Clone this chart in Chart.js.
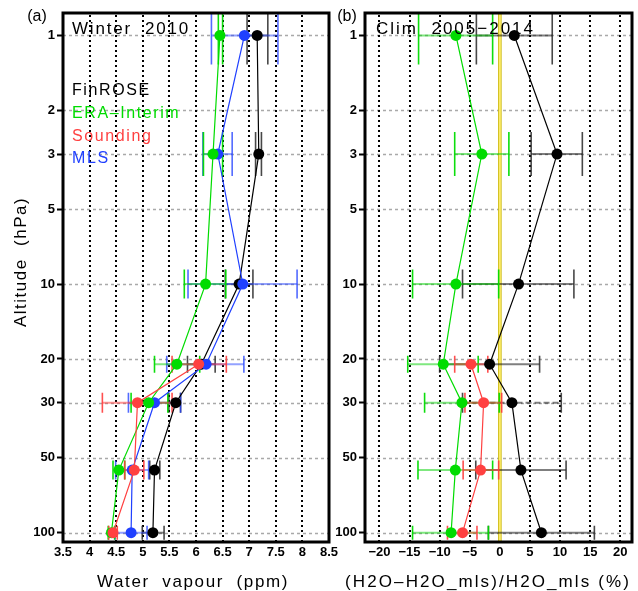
<!DOCTYPE html>
<html><head><meta charset="utf-8">
<script src="https://cdn.jsdelivr.net/npm/chart.js@4"></script>
<style>
html,body{margin:0;padding:0;background:#fff;}
#wrap{position:relative;width:638px;height:591px;overflow:hidden;background:#fff;}
#ca{position:absolute;left:0;top:0;}
#cb{position:absolute;left:330px;top:0;}
</style></head><body>
<div id="wrap"><canvas id="ca" width="345" height="591"></canvas><canvas id="cb" width="308" height="591"></canvas></div>
<script>
// ---------------- data ----------------
const levels = [1, 3, 10, 21, 30, 56, 100];
const yTickValues = [1, 2, 3, 5, 10, 20, 30, 50, 100];
const xTicksA = [3.5, 4, 4.5, 5, 5.5, 6, 6.5, 7, 7.5, 8, 8.5];
const xTicksB = [-20, -15, -10, -5, 0, 5, 10, 15, 20];
const seriesNames = ['FinROSE', 'ERA–Interim', 'Sounding', 'MLS'];

// panel (a): water vapour (ppm)
const finrose    = [7.15, 7.18, 6.81, 6.10, 5.62, 5.22, 5.19];
const finroseLo  = [6.96, 7.12, 6.55, 5.84, 5.49, 5.13, 4.99];
const finroseHi  = [7.35, 7.23, 7.07, 6.36, 5.71, 5.32, 5.40];
const era        = [6.45, 6.32, 6.18, 5.64, 5.11, 4.55, 4.41];
const eraLo      = [6.42, 6.14, 5.78, 5.22, 4.78, 4.44, 4.35];
const eraHi      = [6.50, 6.50, 6.56, 6.07, 5.47, 4.66, 4.47];
const sounding   = [null, null, null, 6.05, 4.90, 4.84, 4.44];
const soundingLo = [null, null, null, 5.55, 4.24, 4.66, 4.36];
const soundingHi = [null, null, null, 6.57, 5.55, 5.02, 4.52];
const mls        = [6.91, 6.41, 6.88, 6.19, 5.22, 4.80, 4.78];
const mlsLo      = [6.29, 6.13, 5.85, 5.45, 4.73, 4.49, 4.48];
const mlsHi      = [7.54, 6.68, 7.90, 6.90, 5.71, 5.11, 5.08];

// panel (b): relative difference to MLS (%)
const finroseRel    = [2.4, 9.5, 3.1, -1.7, 2.0, 3.5, 6.9];
const finroseRelLo  = [-3.9, 5.2, -6.2, -10.0, -6.2, -4.0, -1.9];
const finroseRelHi  = [8.7, 13.7, 12.3, 6.6, 10.2, 11.0, 15.7];
const eraRel        = [-7.3, -3.0, -7.3, -9.4, -6.3, -7.4, -8.1];
const eraRelLo      = [-13.5, -7.5, -14.5, -15.3, -12.5, -13.6, -14.5];
const eraRelHi      = [-1.2, 1.5, -0.2, -3.6, -0.1, -1.2, -1.9];
const soundingRel   = [null, null, null, -4.8, -2.7, -3.2, -6.2];
const soundingRelLo = [null, null, null, -7.5, -5.8, -6.1, -8.7];
const soundingRelHi = [null, null, null, -2.0, 0.3, -0.2, -3.8];

// ---------------- styles ----------------
const FONT = '"Liberation Sans", Arial, Helvetica, sans-serif';
const C = {
  finrose: {line:'#000000', bar:'rgba(0,0,0,0.5)', cap:'rgba(40,40,40,0.85)'},
  era:     {line:'#00dc00', bar:'rgba(0,210,0,0.5)', cap:'rgba(0,220,0,0.95)'},
  sounding:{line:'#ff4040', bar:'rgba(255,60,60,0.55)', cap:'rgba(255,60,60,0.9)'},
  mls:     {line:'#2040ff', bar:'rgba(40,70,255,0.5)', cap:'rgba(40,70,255,0.8)'}
};
const capHalf = [29, 22, 14.5, 8.5, 10, 9.5, 7];

function makeDataset(label, xs, color) {
  const pts = [];
  xs.forEach((v, i) => { if (v !== null) pts.push({x: v, y: levels[i]}); });
  return {label, data: pts, showLine: true, borderColor: color, backgroundColor: color,
    borderWidth: 1.2, pointRadius: 5.5, pointHoverRadius: 5.5, pointBackgroundColor: color,
    pointBorderColor: color, pointBorderWidth: 0, tension: 0};
}

const panelPlugin = {
  id: 'panel',
  beforeDatasetsDraw(chart, args, opts) {
    const {ctx, chartArea: a, scales: {x, y}} = chart;
    ctx.save();
    ctx.beginPath(); ctx.rect(a.left, a.top, a.right - a.left, a.bottom - a.top); ctx.clip();
    // horizontal grey dotted grid
    ctx.lineWidth = 1.5; ctx.strokeStyle = '#a9a9a9'; ctx.setLineDash([3, 3]);
    y.ticks.forEach(t => {
      const yy = Math.round(y.getPixelForValue(t.value)) + 0.5;
      ctx.beginPath(); ctx.moveTo(a.left, yy); ctx.lineTo(a.right, yy); ctx.stroke();
    });
    // vertical black dotted grid
    ctx.lineWidth = 2; ctx.strokeStyle = '#000'; ctx.setLineDash([2, 3]);
    x.ticks.forEach(t => {
      if (t.value <= x.min + 1e-9 || t.value >= x.max - 1e-9) return;
      const xx = Math.round(x.getPixelForValue(t.value));
      ctx.beginPath(); ctx.moveTo(xx, a.top + 2); ctx.lineTo(xx, a.bottom); ctx.stroke();
    });
    ctx.setLineDash([]);
    if (opts.zeroLine) {
      const xx = x.getPixelForValue(0);
      ctx.strokeStyle = '#c8b400'; ctx.lineWidth = 3.5;
      ctx.beginPath(); ctx.moveTo(xx, a.top); ctx.lineTo(xx, a.bottom); ctx.stroke();
      ctx.strokeStyle = '#fbeb6a'; ctx.lineWidth = 2;
      ctx.beginPath(); ctx.moveTo(xx, a.top); ctx.lineTo(xx, a.bottom); ctx.stroke();
    }
    // error bars
    (opts.errs || []).forEach(s => {
      for (let i = 0; i < levels.length; i++) {
        if (s.lo[i] === null) continue;
        const yy = y.getPixelForValue(levels[i]);
        const x1 = x.getPixelForValue(s.lo[i]), x2 = x.getPixelForValue(s.hi[i]);
        ctx.setLineDash(s.dashAt && s.dashAt.includes(i) ? [6, 3] : []);
        ctx.strokeStyle = s.style.bar; ctx.lineWidth = 2;
        ctx.beginPath(); ctx.moveTo(x1, yy); ctx.lineTo(x2, yy); ctx.stroke();
        ctx.setLineDash([]);
        ctx.strokeStyle = s.style.cap; ctx.lineWidth = 1.6;
        const h = capHalf[i];
        ctx.beginPath();
        ctx.moveTo(x1, yy - h); ctx.lineTo(x1, yy + h);
        ctx.moveTo(x2, yy - h); ctx.lineTo(x2, yy + h);
        ctx.stroke();
      }
    });
    ctx.restore();
  },
  afterDraw(chart, args, opts) {
    const {ctx, chartArea: a} = chart;
    ctx.save();
    ctx.lineWidth = 3; ctx.strokeStyle = '#000'; ctx.setLineDash([]);
    ctx.strokeRect(a.left, a.top, a.right - a.left, a.bottom - a.top);
    (opts.texts || []).forEach(t => {
      ctx.save();
      ctx.font = `${t.weight || 'normal'} ${t.size}px ${FONT}`;
      try { ctx.letterSpacing = (t.ls || 0) + 'px'; } catch (e) {}
      ctx.fillStyle = t.color || '#000';
      ctx.textAlign = t.align || 'left';
      ctx.textBaseline = 'alphabetic';
      ctx.translate(t.x, t.y);
      if (t.rot) ctx.rotate(t.rot);
      ctx.fillText(t.text, 0, 0);
      ctx.restore();
    });
    ctx.restore();
  }
};

function yScale(width) {
  return {
    type: 'logarithmic', reverse: true, min: 0.812, max: 109,
    afterBuildTicks: s => { s.ticks = yTickValues.map(v => ({value: v})); },
    afterFit: s => { s.width = width; s.paddingTop = 0; s.paddingBottom = 0; },
    grid: {display: true, drawOnChartArea: false, drawTicks: true, tickLength: 6,
      tickColor: '#000', tickWidth: 2, color: '#000'},
    border: {display: false},
    ticks: {autoSkip: false, padding: 2, color: '#000',
      font: {family: FONT, size: 13, weight: 'bold'}, callback: v => String(v)}
  };
}
function xScale(min, max, ticks) {
  return {
    type: 'linear', min, max,
    afterBuildTicks: s => { s.ticks = ticks.map(v => ({value: v})); },
    afterFit: s => { s.height = 49; s.paddingLeft = 0; s.paddingRight = 0; },
    grid: {display: false, drawTicks: false}, border: {display: false},
    ticks: {autoSkip: false, maxRotation: 0, minRotation: 0, padding: 3, color: '#000',
      font: {family: FONT, size: 13, weight: 'bold'},
      callback: v => String(v).replace('-', '−')}
  };
}
const baseOpts = {responsive: false, animation: false, events: []};

new Chart(document.getElementById('ca'), {
  type: 'scatter',
  data: {datasets: [
    makeDataset(seriesNames[2], sounding, C.sounding.line),
    makeDataset(seriesNames[1], era, C.era.line),
    makeDataset(seriesNames[3], mls, C.mls.line),
    makeDataset(seriesNames[0], finrose, C.finrose.line)
  ]},
  options: Object.assign({}, baseOpts, {
    layout: {padding: {left: 0, top: 13, right: 16, bottom: 0}},
    scales: {x: xScale(3.5, 8.5, xTicksA), y: yScale(63)},
    plugins: {
      legend: {display: false}, tooltip: {enabled: false},
      panel: {
        errs: [
          {lo: finroseLo, hi: finroseHi, style: C.finrose},
          {lo: mlsLo, hi: mlsHi, style: C.mls},
          {lo: eraLo, hi: eraHi, style: C.era},
          {lo: soundingLo, hi: soundingHi, style: C.sounding}
        ],
        texts: [
          {text: '(a)', x: 37, y: 21, size: 16, align: 'center'},
          {text: 'Winter  2010', x: 72, y: 34, size: 17, ls: 1.8},
          {text: seriesNames[0], x: 72, y: 95, size: 16, ls: 1.6, color: C.finrose.line},
          {text: seriesNames[1], x: 72, y: 118, size: 16, ls: 1.6, color: C.era.line},
          {text: seriesNames[2], x: 72, y: 141, size: 16, ls: 1.6, color: C.sounding.line},
          {text: seriesNames[3], x: 72, y: 163, size: 16, ls: 1.6, color: C.mls.line},
          {text: 'Water  vapour  (ppm)', x: 193, y: 587, size: 17, ls: 1.6, align: 'center'},
          {text: 'Altitude  (hPa)', x: 26, y: 262, size: 17, ls: 1.5, align: 'center', rot: -Math.PI / 2}
        ]
      }
    }
  }),
  plugins: [panelPlugin]
});

new Chart(document.getElementById('cb'), {
  type: 'scatter',
  data: {datasets: [
    makeDataset(seriesNames[2], soundingRel, C.sounding.line),
    makeDataset(seriesNames[1], eraRel, C.era.line),
    makeDataset(seriesNames[0], finroseRel, C.finrose.line)
  ]},
  options: Object.assign({}, baseOpts, {
    layout: {padding: {left: 0, top: 13, right: 6, bottom: 0}},
    scales: {x: xScale(-22.4, 21.95, xTicksB), y: yScale(35)},
    plugins: {
      legend: {display: false}, tooltip: {enabled: false},
      panel: {
        zeroLine: true,
        errs: [
          {lo: finroseRelLo, hi: finroseRelHi, style: C.finrose, dashAt: [4]},
          {lo: eraRelLo, hi: eraRelHi, style: C.era},
          {lo: soundingRelLo, hi: soundingRelHi, style: C.sounding}
        ],
        texts: [
          {text: '(b)', x: 17, y: 21, size: 16, align: 'center'},
          {text: 'Clim  2005−2014', x: 46, y: 34, size: 17, ls: 2},
          {text: '(H2O–H2O_mls)/H2O_mls (%)', x: 158, y: 587, size: 17, ls: 2.1, align: 'center'}
        ]
      }
    }
  }),
  plugins: [panelPlugin]
});
</script>
</body></html>
